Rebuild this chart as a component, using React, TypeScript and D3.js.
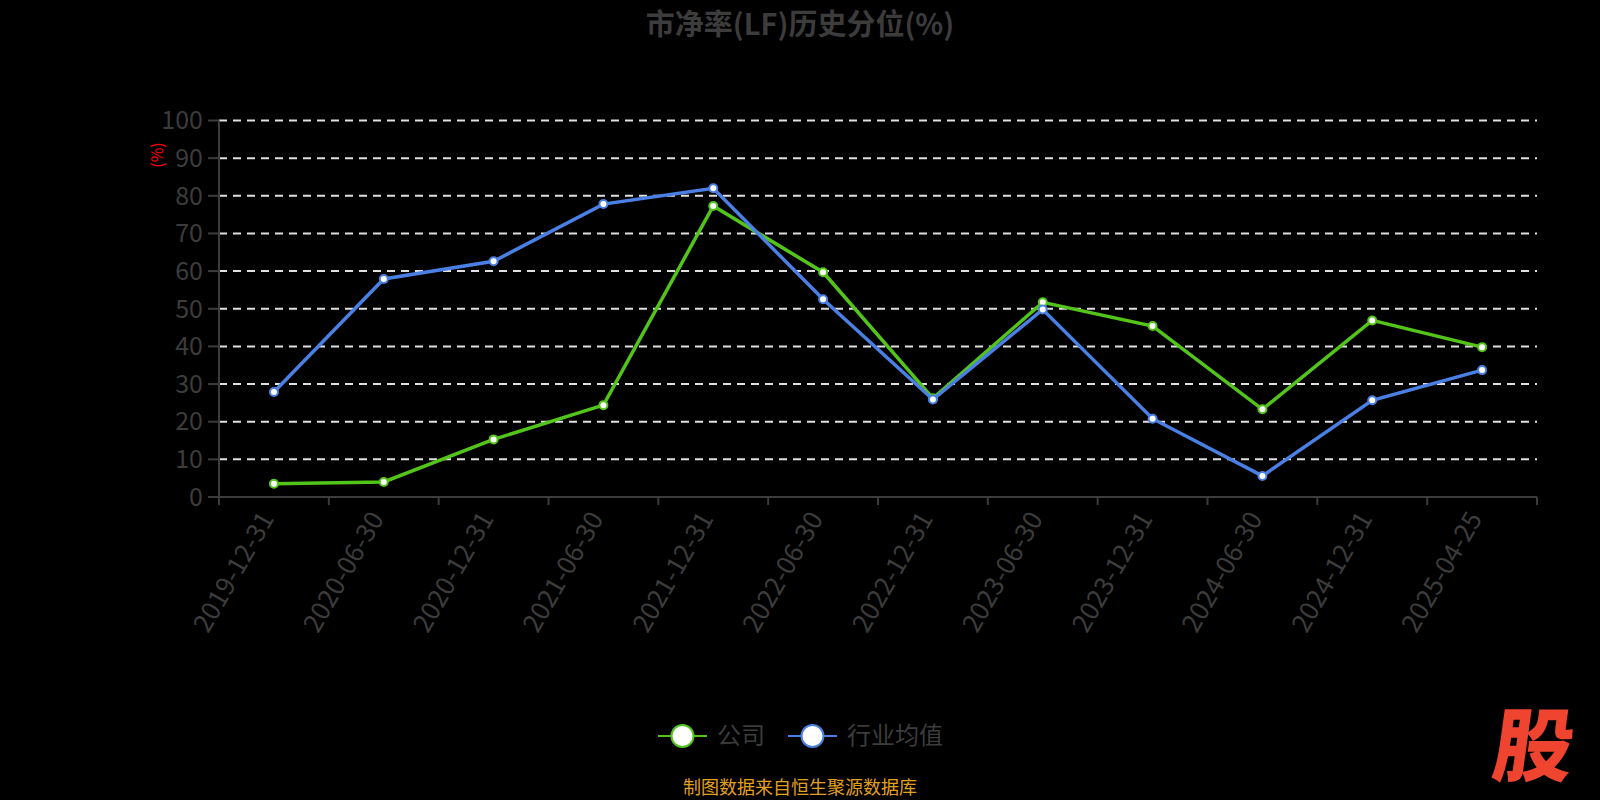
import React from "react";
import * as d3 from "d3";

const categories = [
  "2019-12-31", "2020-06-30", "2020-12-31", "2021-06-30", "2021-12-31", "2022-06-30",
  "2022-12-31", "2023-06-30", "2023-12-31", "2024-06-30", "2024-12-31", "2025-04-25",
];
const companyValues = [3.5, 4.0, 15.3, 24.4, 77.3, 59.7, 26.2, 51.7, 45.4, 23.3, 46.9, 39.8];
const industryValues = [27.9, 57.9, 62.6, 77.8, 82.0, 52.5, 25.9, 49.8, 20.8, 5.6, 25.7, 33.7];
const yTicks = [0, 10, 20, 30, 40, 50, 60, 70, 80, 90, 100];
const seriesNames = ["公司", "行业均值"];

const W = 1600;
const H = 800;
const M = { left: 219, right: 1537, top: 120.5, bottom: 497 };
const GREEN = "#52c41a";
const BLUE = "#4a80e4";
const GRAY = "#3c3c3c";
const FONT = "'Noto Sans CJK SC', 'Noto Sans', sans-serif";

export default function App() {
  const x = d3.scaleBand<string>().domain(categories).range([M.left, M.right]);
  const y = d3.scaleLinear().domain([0, 100]).range([M.bottom, M.top]);
  const cx = (c: string) => (x(c) as number) + x.bandwidth() / 2;
  const line = d3
    .line<number>()
    .x((_, i) => cx(categories[i]))
    .y((v) => y(v));

  const series = [
    { name: seriesNames[0], values: companyValues, color: GREEN },
    { name: seriesNames[1], values: industryValues, color: BLUE },
  ];

  const boundaries = categories.map((c) => x(c) as number).concat([M.right]);

  return (
    <svg
      width={W}
      height={H}
      style={{ position: "absolute", left: 0, top: 0, background: "#000", display: "block" }}
      fontFamily={FONT}
    >
      <rect x={0} y={0} width={W} height={H} fill="#000" />
      <text x={800} y={35} textAnchor="middle" fontSize={29} fontWeight="bold" fill={GRAY}>
        市净率(LF)历史分位(%)
      </text>

      {/* grid lines */}
      {yTicks.filter((t) => t > 0).map((t) => (
        <line
          key={"g" + t}
          x1={M.left}
          x2={M.right}
          y1={y(t)}
          y2={y(t)}
          stroke="#e0e0e0"
          strokeWidth={2}
          strokeDasharray="8,6"
        />
      ))}

      {/* y axis */}
      <line x1={M.left} x2={M.left} y1={M.top} y2={M.bottom} stroke={GRAY} strokeWidth={2} />
      {yTicks.map((t) => (
        <g key={"y" + t}>
          <line x1={M.left - 11} x2={M.left} y1={y(t)} y2={y(t)} stroke={GRAY} strokeWidth={2} />
          <text x={M.left - 16} y={y(t)} dy="0.35em" textAnchor="end" fontSize={25} fill={GRAY}>
            {t}
          </text>
        </g>
      ))}
      <text
        transform={`translate(157,155) rotate(-90)`}
        textAnchor="middle"
        dy="0.35em"
        fontSize={16}
        fill="#ff0000"
      >
        (%)
      </text>

      {/* x axis */}
      <line x1={M.left} x2={M.right} y1={M.bottom} y2={M.bottom} stroke={GRAY} strokeWidth={2} />
      {boundaries.map((b, i) => (
        <line key={"xt" + i} x1={b} x2={b} y1={M.bottom} y2={M.bottom + 8} stroke={GRAY} strokeWidth={2} />
      ))}
      {categories.map((c) => (
        <text
          key={"xl" + c}
          transform={`translate(${cx(c) - 7},${M.bottom + 17}) rotate(-60)`}
          textAnchor="end"
          dy="0.35em"
          fontSize={26}
          fill={GRAY}
        >
          {c}
        </text>
      ))}

      {/* series */}
      {series.map((s) => (
        <g key={s.name}>
          <path d={line(s.values) || ""} fill="none" stroke={s.color} strokeWidth={3.5} />
          {s.values.map((v, i) => (
            <circle
              key={i}
              cx={cx(categories[i])}
              cy={y(v)}
              r={4}
              fill="#fff"
              stroke={s.color}
              strokeWidth={2}
            />
          ))}
        </g>
      ))}

      {/* legend */}
      {series.map((s, i) => {
        const lx = i === 0 ? 658 : 788;
        return (
          <g key={"lg" + s.name}>
            <line x1={lx} x2={lx + 49} y1={736} y2={736} stroke={s.color} strokeWidth={2} />
            <circle cx={lx + 24.5} cy={736} r={11} fill="#fff" stroke={s.color} strokeWidth={2} />
            <text x={lx + 59} y={736} dy="0.35em" fontSize={24} fill={GRAY}>
              {s.name}
            </text>
          </g>
        );
      })}

      <text x={800} y={789} textAnchor="middle" dy="0.3em" fontSize={18} fill="#e0a020">
        制图数据来自恒生聚源数据库
      </text>

      <text
        transform="translate(1530,775) skewX(-8)"
        textAnchor="middle"
        fontSize={80}
        fontWeight="900"
        fill="#ee4430"
      >
        股
      </text>
    </svg>
  );
}
